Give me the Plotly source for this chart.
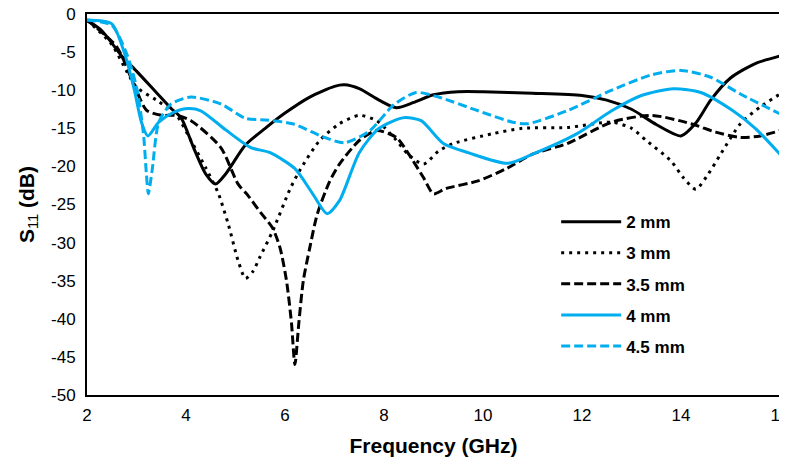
import plotly.graph_objects as go

f_2mm = [2, 2.3, 2.7, 3.0, 3.4, 3.7, 3.9, 4.15, 4.4, 4.6, 4.8, 5.2, 5.6, 6.0, 6.5, 7.0, 7.2, 7.5, 7.9, 8.25, 8.6, 9.0, 9.5, 10, 11, 12, 12.5, 13, 13.5, 14, 14.3, 14.6, 15, 15.5, 16]
s_2mm = [-0.8, -2.2, -5.5, -7.5, -10.3, -12.4, -13.6, -17.5, -21, -22.3, -21, -17.2, -15, -13, -10.9, -9.5, -9.3, -9.8, -11.3, -12.3, -11.6, -10.6, -10.2, -10.2, -10.4, -10.7, -11.3, -12.5, -14.5, -16, -14.3, -11.3, -8.4, -6.5, -5.5]

f_3mm = [2, 2.5, 2.8, 3.0, 3.4, 3.8, 4.1, 4.4, 4.65, 4.85, 5.05, 5.2, 5.35, 5.5, 5.75, 6.1, 6.3, 6.7, 7.1, 7.5, 7.85, 8.2, 8.5, 8.8, 9.1, 9.4, 10.2, 10.8, 11.7, 12.6, 13.0, 13.3, 13.8, 14.05, 14.3, 14.55, 14.8, 15.2, 15.6, 16]
s_3mm = [-0.8, -4, -7.5, -9.6, -11.3, -13.2, -16.6, -20.2, -23.5, -27.5, -32.3, -34.7, -33.8, -31.8, -28.5, -23, -20.5, -16.6, -14.4, -13.3, -14, -16.2, -18.5, -19.7, -18, -17, -15.7, -15, -14.9, -14.2, -15, -16.6, -19.3, -21.5, -23, -21, -18.4, -14.4, -12.2, -10.5]

f_35mm = [2, 2.6, 2.95, 3.2, 3.5, 3.8, 4.1, 4.7, 5.05, 5.25, 5.5, 5.75, 5.9, 6.03, 6.13, 6.2, 6.28, 6.37, 6.5, 6.65, 6.9, 7.1, 7.5, 7.85, 8.25, 8.5, 8.8, 9.0, 9.25, 9.9, 10.5, 11.0, 11.7, 12.6, 13.4, 14.2, 14.7, 15.2, 15.6, 16]
s_35mm = [-0.8, -4.3, -9.3, -12.6, -13.3, -13.3, -14, -17.5, -22.3, -23.8, -26, -28.1, -30.7, -35, -40.5, -46, -40.5, -35, -30.7, -26.3, -22, -19.7, -16.6, -15.3, -16.2, -18.4, -21.5, -23.6, -22.9, -21.9, -20.2, -18.4, -17, -14.2, -13.3, -14.4, -15.5, -16.2, -16.0, -15.3]

f_4mm = [2, 2.5, 2.75, 2.95, 3.1, 3.23, 3.45, 3.75, 4.05, 4.3, 4.8, 5.3, 5.7, 6.2, 6.55, 6.85, 7.1, 7.5, 7.9, 8.4, 8.75, 9.2, 9.7, 10.5, 11.0, 11.9, 12.6, 13.2, 13.85, 14.4, 15.05, 15.5, 16]
s_4mm = [-0.8, -1.3, -5, -9.8, -14.2, -16, -14.2, -12.9, -12.4, -12.7, -15.2, -17.5, -18.2, -20.3, -23.5, -26.2, -24.5, -18.2, -15, -13.6, -14, -17, -18.2, -19.6, -18.4, -15.7, -12.7, -10.7, -9.8, -10.3, -12.7, -15, -18.4]

f_45mm = [2, 2.5, 2.8, 3.0, 3.14, 3.2, 3.24, 3.32, 3.45, 3.7, 4.1, 4.7, 5.2, 5.6, 6.15, 6.8, 7.2, 7.7, 8.2, 8.65, 9.1, 9.9, 10.6, 10.9, 11.7, 12.6, 13.4, 14.0, 14.6, 15.2, 16]
s_45mm = [-0.8, -1.5, -5.2, -9.6, -15.7, -21, -23.6, -20.3, -14.2, -11.8, -10.9, -11.8, -13.7, -13.9, -14.4, -16.2, -16.9, -15.4, -11.9, -10.3, -10.9, -12.7, -14.2, -14.4, -12.7, -10, -8, -7.4, -8.3, -10.5, -13.1]

x_ticks = [2, 4, 6, 8, 10, 12, 14, 16]
y_ticks = [0, -5, -10, -15, -20, -25, -30, -35, -40, -45, -50]

BLUE = "#00AEEF"
series = [
    ("2 mm", f_2mm, s_2mm, "black", "solid"),
    ("3 mm", f_3mm, s_3mm, "black", "3px,5px"),
    ("3.5 mm", f_35mm, s_35mm, "black", "9px,4px"),
    ("4 mm", f_4mm, s_4mm, BLUE, "solid"),
    ("4.5 mm", f_45mm, s_45mm, BLUE, "9px,4px"),
]

fig = go.Figure()
for name, x, y, c, d in series:
    fig.add_trace(go.Scatter(
        x=x, y=y, mode="lines", name=f"<b>{name}</b>", legendgroup=name,
        line=dict(color=c, width=3, dash=d, shape="spline", smoothing=0.7),
    ))

font = "Liberation Sans, Arial, Helvetica, sans-serif"
# the page body adds an 8px offset; figure sized to fit the window exactly
fig.update_layout(
    width=779, height=452,
    margin=dict(l=79, r=7, t=6, b=65, autoexpand=False),
    paper_bgcolor="white", plot_bgcolor="white",
    font=dict(family=font, size=17, color="black"),
    showlegend=True,
    legend=dict(x=0.677, y=0.501, xanchor="left", yanchor="top",
                bgcolor="rgba(0,0,0,0)", font=dict(size=17),
                tracegroupgap=6, itemwidth=60),
    xaxis=dict(range=[2, 16], tickvals=x_ticks, ticktext=[str(v) for v in x_ticks],
               showgrid=False, zeroline=False, showline=True, linecolor="black",
               linewidth=2, mirror=True, ticks="", automargin=False,
               ticklabelstandoff=4, ticklabeloverflow="allow",
               title=dict(text="<b>Frequency (GHz)</b>", font=dict(size=21), standoff=14)),
    yaxis=dict(range=[-50, 0], tickvals=y_ticks, ticktext=[str(v) for v in y_ticks],
               showgrid=False, zeroline=False, showline=True, linecolor="black",
               linewidth=2, mirror=True, ticks="", automargin=False,
               ticklabelstandoff=6, ticklabeloverflow="allow",
               title=dict(text="<b>S</b><sub>11</sub><b> (dB)</b>", font=dict(size=21), standoff=11)),
)

fig.write_html("out.html")
